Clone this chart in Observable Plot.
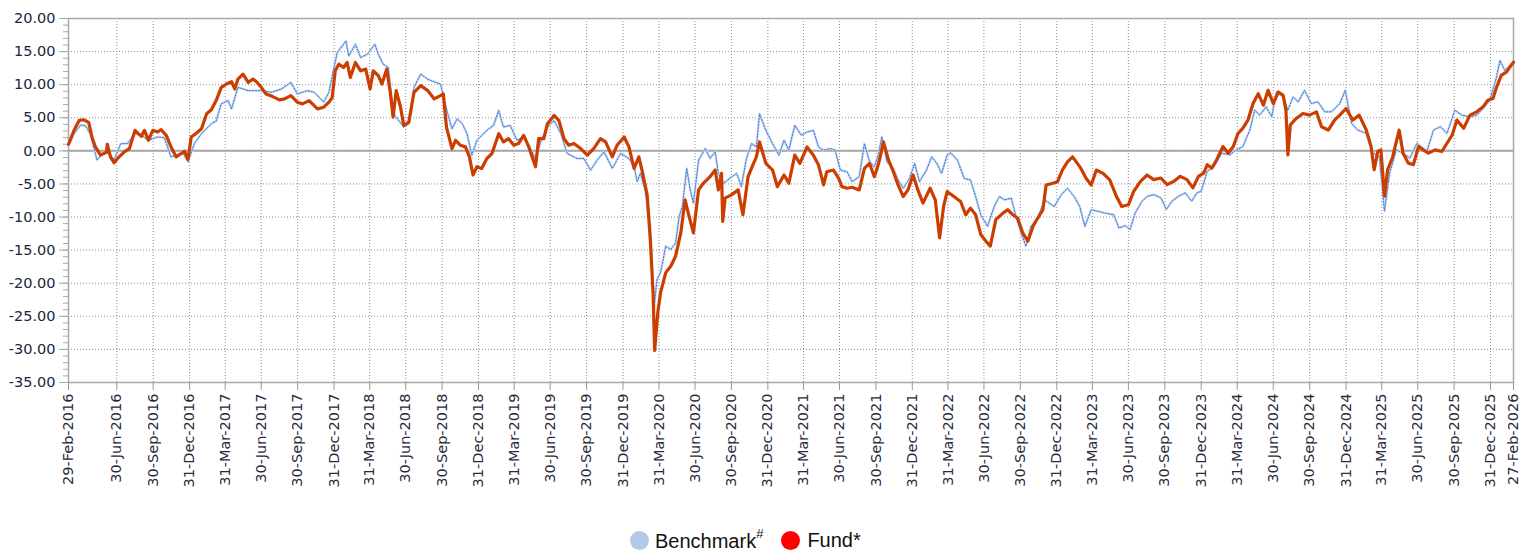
<!DOCTYPE html>
<html>
<head>
<meta charset="utf-8">
<script src="https://cdn.jsdelivr.net/npm/d3@7"></script>
<script src="https://cdn.jsdelivr.net/npm/@observablehq/plot@0.6"></script>
<style>
  html, body { margin: 0; padding: 0; background: #fff; }
  #wrap { position: relative; width: 1520px; height: 551px; overflow: hidden; }
  #legend { position: absolute; left: 630px; top: 529px; height: 22px; display: flex; align-items: center;
            font-family: "Liberation Sans", Arial, sans-serif; font-size: 20px; color: #111; white-space: nowrap; }
  .dot { width: 19px; height: 19px; border-radius: 50%; display: inline-block; }
  .item { display: flex; align-items: center; }
  sup { font-size: 13px; position: relative; top: -2px; }
</style>
</head>
<body>
<div id="wrap">
  <div id="chart"></div>
  <div id="legend"></div>
</div>
<script>
// ---- Data ----
const xTickDates = ["2016-02-29","2016-06-30","2016-09-30","2016-12-31","2017-03-31","2017-06-30","2017-09-30","2017-12-31",
  "2018-03-31","2018-06-30","2018-09-30","2018-12-31","2019-03-31","2019-06-30","2019-09-30","2019-12-31",
  "2020-03-31","2020-06-30","2020-09-30","2020-12-31","2021-03-31","2021-06-30","2021-09-30","2021-12-31",
  "2022-03-31","2022-06-30","2022-09-30","2022-12-31","2023-03-31","2023-06-30","2023-09-30","2023-12-31",
  "2024-03-31","2024-06-30","2024-09-30","2024-12-31","2025-03-31","2025-06-30","2025-09-30","2025-12-31","2026-02-27"];
const yTicks = [-35, -30, -25, -20, -15, -10, -5, 0, 5, 10, 15, 20];
const yMinorTicks = [-35,-34,-33,-32,-31,-30,-29,-28,-27,-26,-25,-24,-23,-22,-21,-20,-19,-18,-17,-16,-15,-14,-13,-12,-11,-10,
  -9,-8,-7,-6,-5,-4,-3,-2,-1,0,1,2,3,4,5,6,7,8,9,10,11,12,13,14,15,16,17,18,19,20];
const seriesNames = ["Benchmark", "Fund*"];

const fundDates = ["2016-02-29","2016-03-14","2016-03-27","2016-04-07","2016-04-20","2016-04-29","2016-05-07","2016-05-20","2016-06-04","2016-06-06",
"2016-06-14","2016-06-23","2016-07-06","2016-07-19","2016-08-01","2016-08-15","2016-08-31","2016-09-08","2016-09-18","2016-09-29",
"2016-10-11","2016-10-20","2016-11-02","2016-11-14","2016-11-27","2016-12-10","2016-12-18","2016-12-27","2017-01-04","2017-01-16",
"2017-01-30","2017-02-12","2017-02-24","2017-03-08","2017-03-21","2017-04-03","2017-04-16","2017-04-24","2017-05-02","2017-05-15",
"2017-05-28","2017-06-09","2017-06-18","2017-06-30","2017-07-12","2017-07-29","2017-08-15","2017-08-28","2017-09-13","2017-09-29",
"2017-10-12","2017-10-29","2017-11-19","2017-12-05","2017-12-18","2017-12-26","2018-01-03","2018-01-12","2018-01-24","2018-02-02",
"2018-02-10","2018-02-23","2018-03-08","2018-03-21","2018-04-01","2018-04-09","2018-04-22","2018-05-01","2018-05-13","2018-05-22",
"2018-05-29","2018-06-06","2018-06-17","2018-06-25","2018-07-08","2018-07-21","2018-08-07","2018-08-25","2018-09-10","2018-09-26",
"2018-10-03","2018-10-11","2018-10-25","2018-11-03","2018-11-15","2018-11-28","2018-12-08","2018-12-17","2018-12-27","2019-01-08",
"2019-01-21","2019-02-03","2019-02-20","2019-03-04","2019-03-17","2019-03-30","2019-04-11","2019-04-24","2019-05-07","2019-05-24",
"2019-06-01","2019-06-14","2019-06-23","2019-07-10","2019-07-22","2019-08-04","2019-08-16","2019-08-29","2019-09-15","2019-10-02",
"2019-10-18","2019-11-04","2019-11-17","2019-12-04","2019-12-16","2020-01-03","2020-01-15","2020-01-28","2020-02-09","2020-02-17",
"2020-03-01","2020-03-09","2020-03-16","2020-03-20","2020-03-28","2020-04-04","2020-04-17","2020-04-30","2020-05-12","2020-05-25",
"2020-06-05","2020-06-13","2020-06-26","2020-07-09","2020-07-21","2020-08-07","2020-08-20","2020-08-28","2020-09-05","2020-09-08",
"2020-09-14","2020-09-30","2020-10-17","2020-10-29","2020-11-11","2020-11-23","2020-12-02","2020-12-10","2020-12-26","2021-01-12",
"2021-01-24","2021-02-10","2021-02-22","2021-03-09","2021-03-22","2021-04-09","2021-04-25","2021-05-08","2021-05-21","2021-05-29",
"2021-06-15","2021-06-28","2021-07-06","2021-07-19","2021-08-01","2021-08-19","2021-09-01","2021-09-14","2021-09-26","2021-10-02",
"2021-10-10","2021-10-19","2021-11-01","2021-11-13","2021-11-25","2021-12-08","2021-12-20","2022-01-02","2022-01-14","2022-01-27",
"2022-02-14","2022-02-27","2022-03-10","2022-03-20","2022-03-29","2022-04-15","2022-05-02","2022-05-15","2022-05-27","2022-06-09",
"2022-06-22","2022-07-05","2022-07-16","2022-07-30","2022-08-17","2022-08-29","2022-09-11","2022-09-23","2022-10-06","2022-10-19",
"2022-11-01","2022-11-13","2022-11-26","2022-12-04","2022-12-21","2023-01-02","2023-01-14","2023-01-27","2023-02-09","2023-02-21",
"2023-03-02","2023-03-15","2023-03-28","2023-04-10","2023-04-27","2023-05-14","2023-05-31","2023-06-13","2023-06-30","2023-07-13",
"2023-07-30","2023-08-16","2023-09-02","2023-09-20","2023-10-06","2023-10-23","2023-11-08","2023-11-25","2023-12-10","2023-12-24",
"2024-01-06","2024-01-15","2024-01-27","2024-02-08","2024-02-24","2024-03-08","2024-03-21","2024-04-02","2024-04-14","2024-04-27",
"2024-05-10","2024-05-23","2024-06-05","2024-06-17","2024-06-30","2024-07-13","2024-07-25","2024-08-01","2024-08-06","2024-08-12",
"2024-08-27","2024-09-13","2024-09-30","2024-10-17","2024-10-30","2024-11-16","2024-12-02","2024-12-15","2024-12-31","2025-01-17",
"2025-02-02","2025-02-20","2025-03-04","2025-03-12","2025-03-21","2025-03-29","2025-04-07","2025-04-15","2025-04-28","2025-05-14",
"2025-05-24","2025-06-06","2025-06-19","2025-07-02","2025-07-14","2025-07-27","2025-08-13","2025-08-30","2025-09-12","2025-09-25",
"2025-10-07","2025-10-24","2025-11-09","2025-11-26","2025-12-12","2025-12-24","2026-01-06","2026-01-14","2026-01-27","2026-02-09",
"2026-02-27"];
const fundValues = [1.0,3.1,4.6,4.7,4.3,1.9,0.6,-0.65,-0.2,1.0,
-0.9,-1.8,-0.9,-0.15,0.35,3.1,2.2,3.1,1.6,3.1,
2.85,3.2,2.35,0.6,-0.9,-0.4,-0.05,-1.3,2.1,2.6,
3.35,5.6,6.2,7.6,9.6,10.1,10.45,9.35,10.85,11.6,
10.35,10.85,10.45,9.6,8.6,8.2,7.7,7.85,8.35,7.35,
7.1,7.6,6.35,6.6,7.35,8.0,12.1,13.1,12.6,13.35,
11.1,13.35,12.1,12.35,9.35,12.1,11.35,10.1,12.35,8.85,
5.1,9.1,6.6,3.85,4.35,8.85,9.85,9.1,7.85,8.35,
8.6,3.6,0.35,1.6,0.85,0.6,-0.9,-3.65,-2.4,-2.65,
-1.15,-0.4,2.6,1.35,1.85,0.85,1.1,2.35,0.6,-2.4,
1.85,1.85,4.1,5.35,4.6,1.85,0.85,1.1,0.35,-0.65,
0.35,1.85,1.35,-0.9,0.85,2.1,0.6,-2.65,-0.9,-2.9,
-6.65,-13.4,-21.4,-30.15,-24.4,-21.4,-18.4,-17.4,-15.9,-12.4,
-7.4,-9.4,-12.4,-5.9,-4.9,-3.9,-2.9,-5.9,-3.4,-10.65,
-7.15,-6.65,-5.9,-9.65,-3.9,-2.15,-0.9,1.35,-1.9,-2.9,
-5.4,-3.65,-4.9,-0.65,-1.9,0.6,-0.65,-2.15,-5.15,-3.15,
-2.9,-4.15,-5.4,-5.65,-5.5,-5.9,-2.65,-1.9,-3.9,-2.9,
-1.15,1.35,-1.4,-3.15,-5.15,-6.9,-5.9,-3.65,-5.9,-7.9,
-5.65,-7.4,-13.15,-8.4,-6.15,-6.9,-7.65,-9.65,-8.65,-9.65,
-12.65,-13.65,-14.4,-10.4,-9.4,-8.9,-9.65,-10.15,-12.4,-13.65,
-11.4,-10.15,-8.9,-5.15,-4.9,-4.65,-2.9,-1.65,-0.9,-1.9,
-2.65,-4.15,-5.15,-2.9,-3.4,-4.4,-6.9,-8.4,-8.15,-6.15,
-4.65,-3.65,-4.35,-4.1,-5.1,-4.6,-3.85,-4.35,-5.6,-3.85,
-3.35,-2.1,-2.6,-1.35,0.65,-0.35,0.65,2.65,3.4,4.65,
7.15,8.65,6.9,9.15,7.15,8.9,8.4,6.15,-0.6,3.9,
4.9,5.65,5.4,5.9,3.65,3.15,4.65,5.4,6.4,4.65,
5.4,3.15,0.65,-2.85,-0.1,0.15,-6.85,-2.85,-0.85,3.15,
-0.35,-1.85,-2.1,0.65,0.15,-0.35,0.15,-0.1,1.15,2.4,
4.65,3.4,5.4,5.9,6.65,7.65,7.9,9.4,11.4,11.9,
13.4];

const benchDates = ["2016-02-29","2016-03-14","2016-03-31","2016-04-12","2016-04-25","2016-05-11","2016-05-24","2016-06-10","2016-06-23","2016-07-10",
"2016-07-27","2016-08-15","2016-08-31","2016-09-17","2016-10-11","2016-10-28","2016-11-14","2016-12-01","2016-12-14","2016-12-27",
"2017-01-12","2017-01-30","2017-02-24","2017-03-08","2017-03-21","2017-04-07","2017-04-16","2017-05-02","2017-05-28","2017-06-30",
"2017-07-25","2017-08-20","2017-09-13","2017-09-29","2017-10-25","2017-11-11","2017-12-05","2017-12-18","2017-12-30","2018-01-08",
"2018-01-30","2018-02-06","2018-02-23","2018-03-08","2018-03-25","2018-04-13","2018-04-22","2018-05-04","2018-05-17","2018-05-30",
"2018-06-25","2018-07-08","2018-07-21","2018-08-07","2018-08-25","2018-09-26","2018-10-13","2018-10-25","2018-11-07","2018-11-20",
"2018-12-02","2018-12-14","2018-12-27","2019-01-21","2019-02-07","2019-02-20","2019-03-04","2019-03-21","2019-04-07","2019-04-24",
"2019-05-11","2019-05-24","2019-06-06","2019-06-23","2019-07-10","2019-07-27","2019-08-12","2019-09-06","2019-09-23","2019-10-10",
"2019-10-27","2019-11-13","2019-12-04","2019-12-25","2020-01-15","2020-01-28","2020-02-05","2020-02-13","2020-02-25","2020-03-09",
"2020-03-18","2020-03-26","2020-04-04","2020-04-17","2020-04-30","2020-05-12","2020-05-21","2020-05-29","2020-06-09","2020-06-18",
"2020-06-26","2020-07-09","2020-07-26","2020-08-07","2020-08-20","2020-08-28","2020-09-10","2020-09-26","2020-10-13","2020-10-25",
"2020-11-07","2020-11-20","2020-12-02","2020-12-10","2020-12-26","2021-01-12","2021-01-28","2021-02-10","2021-02-22","2021-03-09",
"2021-03-26","2021-04-09","2021-04-25","2021-05-08","2021-05-21","2021-06-07","2021-06-19","2021-07-02","2021-07-19","2021-08-01",
"2021-08-19","2021-09-01","2021-09-14","2021-09-26","2021-10-06","2021-10-15","2021-10-28","2021-11-13","2021-11-25","2021-12-08",
"2021-12-24","2022-01-06","2022-01-18","2022-02-05","2022-02-18","2022-03-03","2022-03-15","2022-03-29","2022-04-07","2022-04-24",
"2022-05-11","2022-05-27","2022-06-09","2022-06-22","2022-07-09","2022-07-26","2022-08-08","2022-08-21","2022-09-07","2022-09-20",
"2022-10-02","2022-10-14","2022-10-27","2022-11-13","2022-11-30","2022-12-12","2022-12-25","2023-01-11","2023-01-27","2023-02-13",
"2023-02-27","2023-03-12","2023-03-28","2023-04-15","2023-05-02","2023-05-24","2023-06-06","2023-06-22","2023-07-04","2023-07-17",
"2023-08-03","2023-08-16","2023-09-02","2023-09-20","2023-10-04","2023-10-18","2023-11-04","2023-11-21","2023-12-07","2023-12-20",
"2023-12-31","2024-01-15","2024-02-01","2024-02-21","2024-03-12","2024-03-29","2024-04-14","2024-05-02","2024-05-14","2024-05-27",
"2024-06-12","2024-06-26","2024-07-08","2024-07-25","2024-08-06","2024-08-19","2024-09-01","2024-09-17","2024-10-04","2024-10-21",
"2024-11-07","2024-11-24","2024-12-15","2024-12-29","2025-01-14","2025-01-29","2025-02-20","2025-03-09","2025-03-25","2025-04-07",
"2025-04-20","2025-05-07","2025-05-24","2025-06-10","2025-06-28","2025-07-23","2025-08-09","2025-08-26","2025-09-12","2025-10-02",
"2025-10-19","2025-11-09","2025-11-26","2025-12-12","2025-12-29","2026-01-14","2026-01-24","2026-02-05","2026-02-27"];
const benchValues = [0.8,2.6,3.9,3.8,2.5,-1.4,-0.5,-0.3,-1.4,1.1,
1.1,2.6,2.4,1.6,2.1,2.0,-0.9,-0.6,-0.3,-1.65,
1.1,2.6,4.1,4.5,7.1,7.6,6.35,9.6,9.1,9.1,
8.85,9.35,10.35,8.6,9.1,8.85,7.35,8.85,12.35,14.85,
16.6,14.35,16.1,14.1,14.6,16.1,14.6,13.1,12.6,5.6,
3.6,4.1,9.6,11.6,10.8,10.1,5.85,3.35,4.85,4.1,
2.6,-0.65,1.6,3.1,3.85,6.1,3.6,3.85,1.6,2.1,
0.35,-1.15,1.35,3.6,4.6,2.6,-0.4,-1.15,-1.15,-2.9,
-1.4,-0.15,-2.65,-0.4,-1.15,-2.4,-4.65,-3.4,-5.9,-11.4,
-23.9,-19.4,-18.4,-14.4,-14.9,-13.9,-9.9,-8.4,-2.65,-5.9,
-7.9,-1.4,0.35,-1.15,-0.15,-3.4,-4.9,-4.15,-3.4,-5.4,
-1.15,1.1,0.6,5.6,3.1,1.1,-0.65,1.6,0.1,3.85,
2.35,2.85,3.1,0.6,0.1,0.35,0.1,-2.9,-3.15,-4.65,
-3.9,1.1,-1.65,-2.4,-0.65,2.1,-1.65,-2.65,-4.4,-5.65,
-4.15,-1.9,-4.65,-2.9,-0.9,-1.9,-3.4,-0.65,-0.3,-1.4,
-4.15,-4.4,-6.9,-9.65,-11.4,-8.4,-6.9,-7.4,-7.15,-10.15,
-12.4,-14.4,-11.4,-10.15,-7.4,-7.9,-8.4,-6.65,-5.65,-6.9,
-8.4,-11.4,-8.9,-9.15,-9.4,-9.65,-11.65,-11.3,-11.9,-9.4,
-7.65,-6.9,-6.6,-7.1,-8.85,-7.6,-6.85,-6.35,-7.6,-6.35,
-6.1,-3.1,-2.35,-0.35,-0.6,0.15,0.65,3.15,6.15,5.4,
6.65,5.15,8.9,8.15,6.15,8.15,7.4,9.15,7.15,7.4,
5.9,5.9,7.15,9.15,4.15,3.15,2.65,-0.35,-0.85,-9.1,
-3.35,0.15,-0.35,-1.1,1.15,-0.1,3.15,3.65,2.65,6.15,
5.4,5.15,5.4,6.4,7.65,10.9,13.65,12.15,13.4];

// ---- Build tables ----
const fund = fundDates.map((d, i) => ({date: new Date(d), value: fundValues[i]}));
const bench = benchDates.map((d, i) => ({date: new Date(d), value: benchValues[i]}));
const xTicks = xTickDates.map(d => new Date(d));
const fmtDate = d3.utcFormat("%d-%b-%Y");

const chart = Plot.plot({
  width: 1520,
  height: 528,
  marginLeft: 68,
  marginRight: 7,
  marginTop: 18,
  marginBottom: 146,
  style: {fontFamily: "DejaVu Sans, Verdana, sans-serif", fontSize: "14.5px", color: "#2a2a3a", background: "#fff", overflow: "visible"},
  x: {type: "utc", domain: [xTicks[0], xTicks[xTicks.length - 1]]},
  y: {domain: [-35, 20]},
  marks: [
    Plot.gridX(xTicks, {stroke: "#8a8f99", strokeOpacity: 1, strokeWidth: 1, strokeDasharray: "1,2"}),
    Plot.gridY(yTicks, {stroke: "#8a8f99", strokeOpacity: 1, strokeWidth: 1, strokeDasharray: "1,2"}),
    Plot.ruleY([0], {stroke: "#a6a6a6", strokeWidth: 2}),
    Plot.frame({stroke: "#a9a9a9", strokeWidth: 1.5}),
    Plot.axisY(yMinorTicks, {tickSize: 5, tickFormat: () => "", stroke: "#a9a9a9", label: null}),
    Plot.axisY(yTicks, {tickSize: 9, tickPadding: 4, tickFormat: d => d.toFixed(2), stroke: "#a9a9a9", fill: "#22253a", label: null}),
    Plot.axisX(xTicks, {tickSize: 8, tickPadding: 3, tickRotate: -90, tickFormat: fmtDate, stroke: "#999", fill: "#2a2a3a", label: null}),
    Plot.line(bench, {x: "date", y: "value", stroke: "#c8daf4", strokeWidth: 2.4, curve: "linear"}),
    Plot.line(bench, {x: "date", y: "value", stroke: "#3f78d0", strokeWidth: 1, strokeDasharray: "1.5,1.5", curve: "linear"}),
    Plot.line(fund, {x: "date", y: "value", stroke: "#cc3d00", strokeWidth: 3.2, strokeLinejoin: "round", curve: "linear"})
  ]
});
document.getElementById("chart").appendChild(chart);

// ---- Legend ----
const legend = document.getElementById("legend");
legend.innerHTML =
  `<span class="item"><span class="dot" style="background:#b3c9e8"></span><span style="margin-left:6px">${seriesNames[0]}<sup>#</sup></span></span>` +
  `<span class="item" style="margin-left:18px"><span class="dot" style="background:#ff0000"></span><span style="margin-left:7px">${seriesNames[1]}</span></span>`;
</script>
</body>
</html>
